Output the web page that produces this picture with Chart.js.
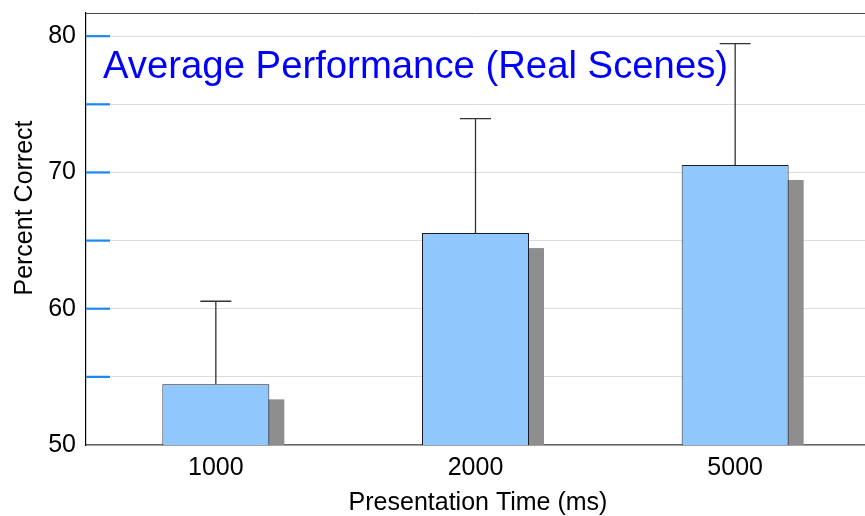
<!DOCTYPE html>
<html><head><meta charset="utf-8">
<script src="https://cdn.jsdelivr.net/npm/chart.js@4/dist/chart.umd.min.js"></script>
<style>html,body{margin:0;padding:0;background:#fff}</style>
</head><body>
<canvas id="c" width="865" height="516"></canvas>
<script>
const categories = ['1000', '2000', '5000'];
const meanValues = [54.45, 65.55, 70.55];
const errorUpper = [6.1, 8.4, 8.9];
const yTickValues = [50, 55, 60, 65, 70, 75, 80];
const yLabelValues = [50, 60, 70, 80];
const chartTitle = 'Average Performance (Real Scenes)';
const xTitle = 'Presentation Time (ms)';
const yTitle = 'Percent Correct';

const FONT = "'Liberation Sans', Arial, sans-serif";

const decor = {
  id: 'decor',
  beforeDatasetsDraw(chart) {
    const ctx = chart.ctx, a = chart.chartArea;
    const meta = chart.getDatasetMeta(0);
    ctx.save();
    ctx.beginPath();
    ctx.rect(a.left, a.top, a.right - a.left, a.bottom - a.top);
    ctx.clip();
    ctx.fillStyle = '#8e8e8e';
    meta.data.forEach(bar => {
      const p = bar.getProps(['x', 'y', 'width', 'base'], true);
      ctx.fillRect(p.x - p.width / 2 + 15, p.y + 15, p.width, p.base - p.y);
    });
    ctx.restore();
  },
  afterDatasetsDraw(chart) {
    const ctx = chart.ctx, a = chart.chartArea;
    const ys = chart.scales.y;
    const meta = chart.getDatasetMeta(0);
    ctx.save();
    // error bars
    ctx.strokeStyle = '#333333';
    ctx.lineWidth = 1.3;
    meta.data.forEach((bar, i) => {
      const p = bar.getProps(['x', 'y'], true);
      const yt = ys.getPixelForValue(meanValues[i] + errorUpper[i]);
      ctx.beginPath();
      ctx.moveTo(p.x, p.y);
      ctx.lineTo(p.x, yt);
      ctx.moveTo(p.x - 15.5, yt);
      ctx.lineTo(p.x + 15.5, yt);
      ctx.stroke();
    });
    // blue tick marks
    ctx.strokeStyle = '#1a88f0';
    ctx.lineWidth = 2.2;
    yTickValues.forEach(v => {
      if (v === 50) return;
      const y = ys.getPixelForValue(v);
      ctx.beginPath();
      ctx.moveTo(a.left, y);
      ctx.lineTo(a.left + 24, y);
      ctx.stroke();
    });
    // top border
    ctx.strokeStyle = '#444444';
    ctx.lineWidth = 1;
    ctx.beginPath();
    ctx.moveTo(a.left, a.top + 0.5);
    ctx.lineTo(a.right, a.top + 0.5);
    ctx.stroke();
    // title inside plot
    ctx.fillStyle = '#0000ff';
    ctx.font = '38.3px ' + FONT;
    ctx.textAlign = 'left';
    ctx.textBaseline = 'alphabetic';
    ctx.fillText(chartTitle, a.left + 17, 78);
    // axis titles
    ctx.fillStyle = '#000000';
    ctx.font = '25px ' + FONT;
    ctx.textAlign = 'center';
    ctx.textBaseline = 'middle';
    ctx.fillText(xTitle, 478, 503);
    ctx.translate(25, 208);
    ctx.rotate(-Math.PI / 2);
    ctx.fillText(yTitle, 0, 0);
    ctx.restore();
  }
};

new Chart(document.getElementById('c'), {
  type: 'bar',
  data: {
    labels: categories,
    datasets: [{
      data: meanValues,
      backgroundColor: '#90c8fe',
      borderColor: '#1a1a24',
      borderWidth: 1,
      borderSkipped: false,
      barPercentage: 0.412,
      categoryPercentage: 1
    }]
  },
  options: {
    responsive: false,
    devicePixelRatio: 1,
    animation: false,
    layout: { padding: { top: 13, right: 0, left: 0, bottom: 0 } },
    plugins: { legend: { display: false }, tooltip: { enabled: false }, title: { display: false } },
    scales: {
      x: {
        grid: { display: false, drawTicks: false },
        border: { color: '#666666', width: 1.5 },
        ticks: { color: '#000', font: { family: FONT, size: 25 }, padding: 8 },
        afterFit: s => { s.height = 71; s.paddingLeft = 0; s.paddingRight = 0; }
      },
      y: {
        min: 50,
        max: 81.7,
        grid: { color: '#dcdcdc', lineWidth: 1, drawTicks: false },
        border: { color: '#000000', width: 1.2 },
        ticks: {
          stepSize: 5,
          color: '#000',
          font: { family: FONT, size: 25 },
          padding: 10,
          callback: v => yLabelValues.includes(v) ? String(v) : ''
        },
        afterBuildTicks: s => { s.ticks = yTickValues.map(v => ({ value: v })); },
        afterFit: s => { s.width = 86; s.paddingTop = 0; s.paddingBottom = 0; }
      }
    }
  },
  plugins: [decor]
});
</script>
</body></html>
